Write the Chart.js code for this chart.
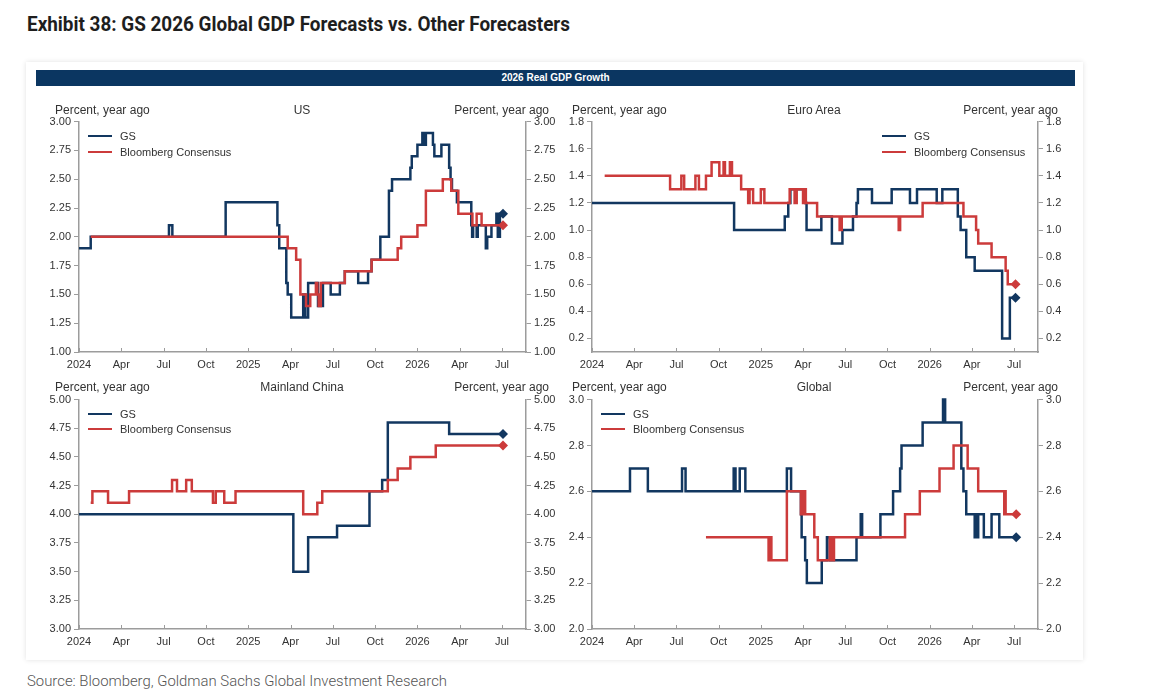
<!DOCTYPE html>
<html>
<head>
<meta charset="utf-8">
<script src="https://cdn.jsdelivr.net/npm/chart.js@4.4.1/dist/chart.umd.min.js"></script>
<style>
html,body{margin:0;padding:0;background:#fff;}
body{width:1154px;height:693px;position:relative;overflow:hidden;font-family:'Liberation Sans',Arial,sans-serif;}
.title{position:absolute;left:27px;top:12px;font-family:Roboto,'Open Sans',sans-serif;font-weight:700;font-size:20px;color:#1e1e1e;white-space:nowrap;transform-origin:0 0;}
.card{position:absolute;left:26px;top:62px;width:1057px;height:598px;background:#fff;box-shadow:0 0 5px rgba(0,0,0,0.12);}
.bar{position:absolute;left:36px;top:70px;width:1039px;height:16px;background:#0b3661;color:#fff;font-size:10px;font-weight:bold;text-align:center;line-height:16px;}
.lbl{position:absolute;font-size:12px;color:#333;white-space:nowrap;line-height:14px;}
.ctr{transform:translateX(-50%);}
.rgt{transform:translateX(-100%);}
.leg{position:absolute;font-size:11px;color:#333;white-space:nowrap;line-height:14px;}
.leg span.sw{display:inline-block;width:24px;height:2px;vertical-align:middle;margin-right:8px;position:relative;top:-1px;}
canvas{position:absolute;}
.src{position:absolute;left:27px;top:672px;font-family:Roboto,'Open Sans',sans-serif;font-weight:300;font-size:15px;color:#555;white-space:nowrap;transform-origin:0 0;}
</style>
</head>
<body>
<div class="title" id="title">Exhibit 38: GS 2026 Global GDP Forecasts vs. Other Forecasters</div>
<div class="card"></div>
<div class="bar">2026 Real GDP Growth</div>

<canvas id="cUS" width="540" height="263" style="left:30px;top:112px;"></canvas>
<canvas id="cEU" width="540" height="263" style="left:542px;top:112px;"></canvas>
<canvas id="cCN" width="540" height="263" style="left:30px;top:390px;"></canvas>
<canvas id="cGL" width="540" height="263" style="left:542px;top:390px;"></canvas>

<div class="lbl" style="left:55px;top:103px;">Percent, year ago</div>
<div class="lbl ctr" style="left:302px;top:103px;">US</div>
<div class="lbl rgt" style="left:549px;top:103px;">Percent, year ago</div>

<div class="lbl" style="left:572px;top:103px;">Percent, year ago</div>
<div class="lbl ctr" style="left:814px;top:103px;">Euro Area</div>
<div class="lbl rgt" style="left:1058px;top:103px;">Percent, year ago</div>

<div class="lbl" style="left:55px;top:380px;">Percent, year ago</div>
<div class="lbl ctr" style="left:302px;top:380px;">Mainland China</div>
<div class="lbl rgt" style="left:549px;top:380px;">Percent, year ago</div>

<div class="lbl" style="left:572px;top:380px;">Percent, year ago</div>
<div class="lbl ctr" style="left:814px;top:380px;">Global</div>
<div class="lbl rgt" style="left:1058px;top:380px;">Percent, year ago</div>

<div class="leg" style="left:88px;top:129px;"><span class="sw" style="background:#123760"></span>GS</div>
<div class="leg" style="left:88px;top:145px;"><span class="sw" style="background:#cc3b3b"></span>Bloomberg Consensus</div>
<div class="leg" style="left:882px;top:129px;"><span class="sw" style="background:#123760"></span>GS</div>
<div class="leg" style="left:882px;top:145px;"><span class="sw" style="background:#cc3b3b"></span>Bloomberg Consensus</div>
<div class="leg" style="left:88px;top:407px;"><span class="sw" style="background:#123760"></span>GS</div>
<div class="leg" style="left:88px;top:422px;"><span class="sw" style="background:#cc3b3b"></span>Bloomberg Consensus</div>
<div class="leg" style="left:601px;top:407px;"><span class="sw" style="background:#123760"></span>GS</div>
<div class="leg" style="left:601px;top:422px;"><span class="sw" style="background:#cc3b3b"></span>Bloomberg Consensus</div>

<div class="src" id="src">Source: Bloomberg, Goldman Sachs Global Investment Research</div>

<script>
// ---------- DATA (x = months since Jan 2024, y = % growth forecast for 2026) ----------
const xTickMonths = [0, 3, 6, 9, 12, 15, 18, 21, 24, 27, 30];
const xTickLabels = ['2024', 'Apr', 'Jul', 'Oct', '2025', 'Apr', 'Jul', 'Oct', '2026', 'Apr', 'Jul'];
const xMaxMonth = 31.7;

const usTickLabels = ['1.00', '1.25', '1.50', '1.75', '2.00', '2.25', '2.50', '2.75', '3.00'];
const euTickLabels = ['0.2', '0.4', '0.6', '0.8', '1.0', '1.2', '1.4', '1.6', '1.8'];
const cnTickLabels = ['3.00', '3.25', '3.50', '3.75', '4.00', '4.25', '4.50', '4.75', '5.00'];
const glTickLabels = ['2.0', '2.2', '2.4', '2.6', '2.8', '3.0'];
const usRange = [1.0, 3.0];
const euRange = [0.1, 1.8];
const cnRange = [3.0, 5.0];
const glRange = [2.0, 3.0];

const usGS = [[0,1.90],[0.83,2.00],[6.38,2.10],[6.62,2.00],[10.4,2.30],[14.07,2.10],[14.2,1.90],[14.7,1.60],[14.8,1.50],[15.05,1.30],[15.9,1.50],[16.05,1.30],[16.25,1.60],[16.95,1.40],[17.3,1.60],[17.85,1.50],[18.5,1.60],[18.85,1.70],[19.8,1.60],[20.5,1.70],[20.75,1.80],[21.37,2.00],[21.98,2.40],[22.2,2.50],[23.5,2.60],[23.6,2.70],[24.0,2.80],[24.35,2.90],[24.45,2.80],[24.6,2.90],[25.1,2.80],[25.2,2.70],[25.7,2.80],[26.25,2.60],[26.35,2.50],[26.45,2.40],[26.8,2.30],[27.82,2.10],[27.88,2.00],[27.95,2.10],[28.2,2.00],[28.28,2.10],[28.85,1.90],[28.95,2.00],[29.25,2.10],[29.6,2.20],[29.7,2.00],[29.85,2.20],[30.07,2.20]];
const usBB = [[0.83,2.00],[14.8,1.90],[15.4,1.80],[15.7,1.50],[16.1,1.40],[16.4,1.50],[16.8,1.60],[16.9,1.50],[17.0,1.40],[17.15,1.60],[18.85,1.70],[20.75,1.80],[22.6,1.90],[22.85,2.00],[24.0,2.10],[24.6,2.40],[25.8,2.50],[26.4,2.40],[26.9,2.20],[27.9,2.10],[28.2,2.20],[28.55,2.10],[30.07,2.10]];

const euGS = [[0,1.2],[10.1,1.0],[13.7,1.1],[13.95,1.2],[14.1,1.3],[15.15,1.2],[15.25,1.0],[16.3,1.1],[17.05,0.9],[17.8,1.0],[18.55,1.1],[18.8,1.2],[18.9,1.3],[19.9,1.2],[21.3,1.3],[22.6,1.2],[23.1,1.3],[24.5,1.2],[24.9,1.3],[26.0,1.1],[26.2,1.0],[26.6,0.8],[27.2,0.7],[29.15,0.2],[29.7,0.5],[30.1,0.5]];
const euBB = [[0.9,1.4],[5.55,1.3],[6.35,1.4],[6.55,1.3],[7.35,1.4],[7.6,1.3],[8.1,1.4],[8.5,1.5],[9.05,1.4],[9.35,1.5],[9.45,1.4],[9.8,1.5],[9.95,1.4],[10.6,1.3],[11.1,1.2],[11.2,1.3],[11.45,1.2],[12.0,1.3],[12.25,1.2],[14.05,1.3],[14.4,1.2],[14.55,1.3],[15.0,1.2],[15.1,1.3],[15.2,1.2],[16.0,1.1],[17.6,1.0],[17.75,1.1],[21.8,1.0],[21.9,1.1],[23.5,1.2],[26.4,1.1],[27.3,1.0],[27.45,0.9],[28.4,0.8],[29.4,0.7],[29.55,0.6],[30.1,0.6]];

const cnGS = [[0,4.00],[15.2,3.50],[16.25,3.80],[18.3,3.90],[20.6,4.20],[21.5,4.30],[21.9,4.80],[26.25,4.70],[30.07,4.70]];
const cnBB = [[0.83,4.10],[0.95,4.20],[2.06,4.10],[3.55,4.20],[6.6,4.30],[6.95,4.20],[7.6,4.30],[8.0,4.20],[9.5,4.10],[9.7,4.20],[10.3,4.10],[11.1,4.20],[15.9,4.00],[16.9,4.10],[17.25,4.20],[21.9,4.30],[22.6,4.40],[23.5,4.50],[25.3,4.60],[30.07,4.60]];

const glGS = [[0,2.6],[2.7,2.7],[3.97,2.6],[6.4,2.7],[6.65,2.6],[10.07,2.7],[10.2,2.6],[10.5,2.7],[10.9,2.6],[13.85,2.7],[14.15,2.6],[14.85,2.5],[14.9,2.4],[15.15,2.3],[15.27,2.2],[16.33,2.3],[16.7,2.4],[16.9,2.3],[18.8,2.4],[19.1,2.5],[19.2,2.4],[20.5,2.5],[21.4,2.6],[21.9,2.7],[22.0,2.8],[23.5,2.9],[24.95,3.0],[25.1,2.9],[26.25,2.7],[26.4,2.6],[26.6,2.5],[27.2,2.4],[27.3,2.5],[27.35,2.4],[27.45,2.5],[27.85,2.4],[28.4,2.5],[28.95,2.4],[30.15,2.4]];
const glBB = [[8.1,2.4],[12.55,2.3],[12.6,2.4],[12.65,2.3],[12.7,2.4],[12.75,2.3],[13.85,2.6],[14.85,2.5],[14.9,2.6],[15.0,2.5],[15.05,2.6],[15.15,2.5],[15.8,2.4],[16.05,2.3],[16.9,2.4],[16.95,2.3],[17.05,2.4],[17.1,2.3],[17.2,2.4],[22.25,2.5],[23.3,2.6],[24.7,2.7],[25.7,2.8],[26.7,2.7],[27.45,2.6],[29.3,2.5],[29.35,2.6],[29.4,2.5],[30.15,2.5]];

// ---------- STYLE ----------
const NAVY = '#123760';
const RED = '#cc3b3b';
const AXIS = '#9c9c9c';
const TXT = '#333333';
Chart.defaults.font.family = "'Liberation Sans', Arial, sans-serif";
Chart.defaults.font.size = 11;
Chart.defaults.color = TXT;

const innerTicks = {
  id: 'innerTicks',
  afterDraw(chart) {
    const sx = chart.scales.x, ctx = chart.ctx, b = chart.chartArea.bottom;
    ctx.save();
    ctx.strokeStyle = AXIS; ctx.lineWidth = 1;
    sx.ticks.forEach(t => {
      const px = Math.round(sx.getPixelForValue(t.value)) + 0.5;
      ctx.beginPath(); ctx.moveTo(px, b); ctx.lineTo(px, b - 4); ctx.stroke();
    });
    ctx.restore();
  }
};

function series(arr, color) {
  const n = arr.length;
  return {
    data: arr.map(([x, y]) => ({x, y})),
    borderColor: color,
    backgroundColor: color,
    borderWidth: 2.5,
    stepped: true,
    fill: false,
    pointStyle: 'rectRot',
    pointRadius: c => (c.dataIndex === n - 1 ? 5 : 0),
    pointHoverRadius: 0,
    pointBorderWidth: 0,
    pointBackgroundColor: color,
    yAxisID: 'y',
    clip: 3
  };
}

function panel(id, gs, bb, tickLabels, range, leftW, rightW, bottomH) {
  const tickVals = tickLabels.map(Number);
  const yAxis = pos => ({
    type: 'linear', position: pos, min: range[0], max: range[1],
    afterBuildTicks: s => { s.ticks = tickVals.map(v => ({value: v})); },
    afterFit: s => { s.width = pos === 'left' ? leftW : rightW; },
    ticks: { callback: (v, i) => tickLabels[i], padding: 3, color: TXT, font: {size: 11} },
    grid: { drawOnChartArea: false, drawTicks: true, tickLength: 5, color: AXIS, lineWidth: 1 },
    border: { display: true, color: AXIS, width: 1.5 }
  });
  new Chart(document.getElementById(id), {
    type: 'line',
    data: { datasets: [series(bb, RED), series(gs, NAVY)] },
    options: {
      responsive: false,
      animation: false,
      events: [],
      layout: { padding: 0 },
      plugins: { legend: { display: false }, tooltip: { enabled: false }, title: { display: false } },
      scales: {
        x: {
          type: 'linear', position: 'bottom', min: 0, max: xMaxMonth,
          afterBuildTicks: s => { s.ticks = xTickMonths.map(v => ({value: v})); },
          afterFit: s => { s.height = bottomH; },
          ticks: { callback: (v, i) => xTickLabels[i], padding: 6, maxRotation: 0, autoSkip: false, color: TXT, font: {size: 11} },
          grid: { drawOnChartArea: false, drawTicks: false, color: AXIS },
          border: { display: true, color: AXIS, width: 1.5 }
        },
        y: yAxis('left'),
        y2: yAxis('right')
      }
    },
    plugins: [innerTicks]
  });
}

panel('cUS', usGS, usBB, usTickLabels, usRange, 49, 44, 23);
panel('cEU', euGS, euBB, euTickLabels, euRange, 50, 44, 23);
panel('cCN', cnGS, cnBB, cnTickLabels, cnRange, 49, 44, 24);
panel('cGL', glGS, glBB, glTickLabels, glRange, 50, 44, 24);

// fit title and source text widths to the reference
function fitWidth(el, target) {
  const w = el.getBoundingClientRect().width;
  if (w > 0) el.style.transform = 'scaleX(' + (target / w) + ')';
}
fitWidth(document.getElementById('title'), 543);
fitWidth(document.getElementById('src'), 420);
</script>
</body>
</html>
